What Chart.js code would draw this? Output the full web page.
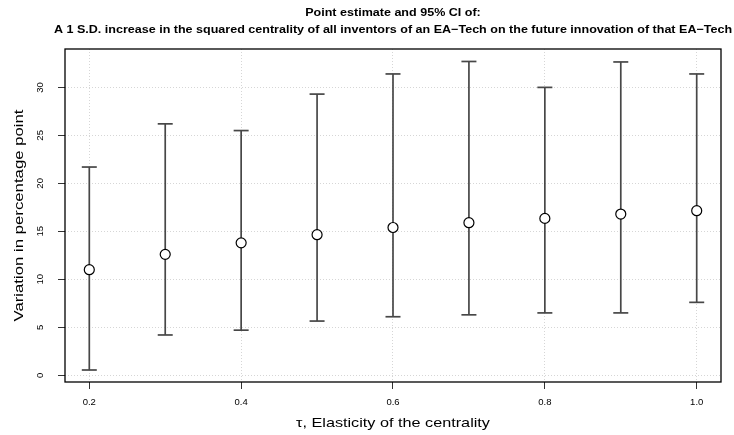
<!DOCTYPE html>
<html>
<head>
<meta charset="utf-8">
<script src="https://cdn.jsdelivr.net/npm/chart.js@4"></script>
<style>
html,body{margin:0;padding:0;background:#fff;}
#wrap{width:734px;height:435px;}
</style>
</head>
<body>
<div id="wrap"><canvas id="c" width="734" height="435"></canvas></div>
<script>
// ---- data ----
const titleLines = [
  "Point estimate and 95% CI of:",
  "A 1 S.D. increase in the squared centrality of all inventors of an EA\u2212Tech on the future innovation of that EA\u2212Tech"
];
const xTitle = "\u03C4, Elasticity of the centrality";
const yTitle = "Variation in percentage point";

const tau      = [0.2, 0.3, 0.4, 0.5, 0.6, 0.7, 0.8, 0.9, 1.0];
const estimate = [11.0, 12.6, 13.8, 14.65, 15.4, 15.9, 16.35, 16.8, 17.15];
const lower    = [0.55, 4.2, 4.7, 5.65, 6.1, 6.3, 6.5, 6.5, 7.6];
const upper    = [21.7, 26.2, 25.5, 29.3, 31.4, 32.7, 30.0, 32.65, 31.4];

const xTicks = [0.2, 0.4, 0.6, 0.8, 1.0];
const yTicks = [0, 5, 10, 15, 20, 25, 30];

// ---- styling ----
const FONT = "'Liberation Sans', Arial, Helvetica, sans-serif";
const barColor = "#474747";

const ciSets = tau.map((t, i) => ({
  type: 'line',
  data: [{x: t, y: lower[i]}, {x: t, y: upper[i]}],
  borderColor: barColor,
  borderWidth: 1.7,
  fill: false,
  pointStyle: 'line',
  pointRadius: 7.5,
  pointHoverRadius: 7.5,
  pointBorderColor: barColor,
  pointBorderWidth: 1.7,
  order: 1
}));

const estSet = {
  type: 'scatter',
  data: tau.map((t, i) => ({x: t, y: estimate[i]})),
  pointStyle: 'circle',
  pointRadius: 5,
  pointHoverRadius: 5,
  pointBorderColor: '#000',
  pointBackgroundColor: '#fff',
  pointBorderWidth: 1.2,
  order: 0
};

// draws text stretched horizontally (along its own direction)
function wideText(ctx, text, x, y, sx, rot) {
  ctx.save();
  ctx.translate(x, y);
  if (rot) ctx.rotate(rot);
  ctx.scale(sx, 1);
  ctx.fillText(text, 0, 0);
  ctx.restore();
}

const framePlugin = {
  id: 'rframe',
  afterDraw(chart) {
    const {ctx, chartArea: a} = chart;
    ctx.save();
    ctx.strokeStyle = '#000';
    ctx.lineWidth = 1.3;
    ctx.strokeRect(a.left, a.top, a.right - a.left, a.bottom - a.top);
    ctx.fillStyle = '#000';
    ctx.textAlign = 'center';
    const cx = (a.left + a.right) / 2;
    const cy = (a.top + a.bottom) / 2;
    // main title
    ctx.textBaseline = 'alphabetic';
    ctx.font = "bold 11px " + FONT;
    wideText(ctx, titleLines[0], cx, 15.5, 1.14, 0);
    wideText(ctx, titleLines[1], cx, 32.5, 1.14, 0);
    // axis titles
    ctx.font = "13.3px " + FONT;
    wideText(ctx, xTitle, cx, 427.3, 1.22, 0);
    wideText(ctx, yTitle, 22.8, cy, 1.26, -Math.PI / 2);
    ctx.restore();
  }
};

const gridCommon = {
  color: '#d6d6d6',
  lineWidth: 1,
  tickLength: 7,
  tickColor: '#333',
  tickWidth: 1,
  tickBorderDash: []
};

new Chart(document.getElementById('c'), {
  type: 'scatter',
  data: { datasets: [...ciSets, estSet] },
  options: {
    responsive: false,
    animation: false,
    devicePixelRatio: 1,
    layout: { padding: { top: 49, right: 13, left: 0, bottom: 0 } },
    plugins: {
      legend: { display: false },
      tooltip: { enabled: false },
      title: { display: false }
    },
    scales: {
      x: {
        type: 'linear',
        min: 0.168,
        max: 1.032,
        afterBuildTicks: s => { s.ticks = xTicks.map(v => ({value: v})); },
        afterFit: s => { s.height = 53; },
        ticks: {
          callback: v => Number(v).toFixed(1),
          font: { family: FONT, size: 9.5 },
          color: '#000',
          padding: 8,
          maxRotation: 0,
          autoSkip: false
        },
        grid: gridCommon,
        border: { display: false, dash: [1, 2] },
        title: { display: false }
      },
      y: {
        type: 'linear',
        min: -0.7,
        max: 34.0,
        afterBuildTicks: s => { s.ticks = yTicks.map(v => ({value: v})); },
        afterFit: s => { s.width = 65; },
        ticks: {
          font: { family: FONT, size: 9.5 },
          color: '#000',
          minRotation: 90,
          maxRotation: 90,
          crossAlign: 'center',
          padding: 12,
          autoSkip: false
        },
        grid: gridCommon,
        border: { display: false, dash: [1, 2] },
        title: { display: false }
      }
    }
  },
  plugins: [framePlugin]
});
</script>
</body>
</html>
